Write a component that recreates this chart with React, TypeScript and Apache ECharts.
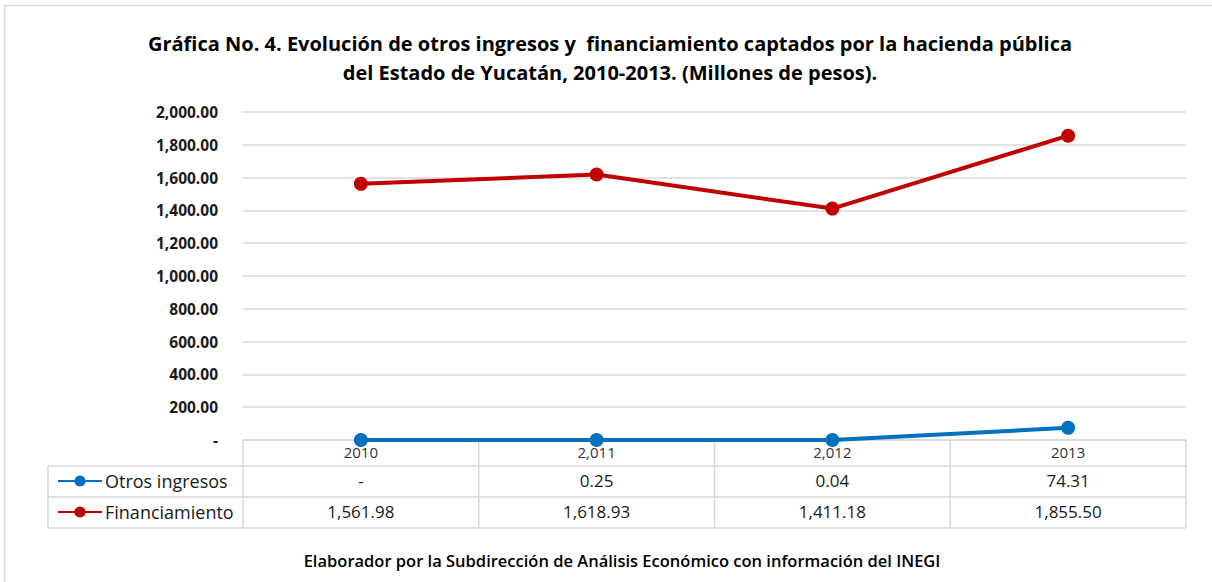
import React, { useEffect, useRef } from "react";
import * as echarts from "echarts";

const categories = ["2010", "2,011", "2,012", "2013"];
const seriesNames = ["Otros ingresos", "Financiamiento"];
const otrosIngresos = [0, 0.25, 0.04, 74.31];
const financiamiento = [1561.98, 1618.93, 1411.18, 1855.5];
const seriesColors = ["#0070C0", "#C00000"];
const titleLines = [
  "Gráfica No. 4. Evolución de otros ingresos y  financiamiento captados por la hacienda pública",
  "del Estado de Yucatán, 2010-2013. (Millones de pesos).",
];
const footer = "Elaborador por la Subdirección de Análisis Económico con información del INEGI";

const W = 1212;
const H = 582;
const GL = 243;
const GR = 1186;
const GT = 112;
const GB = 440;
const ROW_H = 31;
const TABLE_LEFT = 48;
const FONT = "'Open Sans', Lato, sans-serif";

function fmt(v: number): string {
  if (v === 0) return "-";
  return v.toLocaleString("en-US", { minimumFractionDigits: 2, maximumFractionDigits: 2 });
}

export default function App() {
  const ref = useRef<HTMLDivElement>(null);
  useEffect(() => {
    document.body.style.margin = "0";
    const chart = echarts.init(ref.current!, null, { renderer: "svg" });
    const values = [otrosIngresos, financiamiento];
    const colW = (GR - GL) / categories.length;
    const tableBottom = GB + 26 + ROW_H * 2;
    const graphics: any[] = [];
    graphics.push({
      type: "rect",
      shape: { x: 4.5, y: 5.5, width: W + 20, height: H + 20 },
      style: { fill: "none", stroke: "#d9d9d9", lineWidth: 1.5 },
      silent: true,
    });
    const rowYs = [GB + 26, GB + 26 + ROW_H, tableBottom];
    rowYs.forEach((y) => {
      graphics.push({
        type: "line",
        shape: { x1: TABLE_LEFT, y1: y, x2: GR, y2: y },
        style: { stroke: "#d9d9d9", lineWidth: 1.5 },
        silent: true,
      });
    });
    graphics.push({
      type: "line",
      shape: { x1: TABLE_LEFT, y1: GB + 26, x2: TABLE_LEFT, y2: tableBottom },
      style: { stroke: "#d9d9d9", lineWidth: 1.5 },
      silent: true,
    });
    for (let i = 0; i <= categories.length; i++) {
      const x = GL + colW * i;
      graphics.push({
        type: "line",
        shape: { x1: x, y1: GB, x2: x, y2: tableBottom },
        style: { stroke: "#d9d9d9", lineWidth: 1.5 },
        silent: true,
      });
    }
    values.forEach((arr, r) => {
      arr.forEach((v, c) => {
        graphics.push({
          type: "text",
          x: GL + colW * (c + 0.5),
          y: GB + 26 + ROW_H * (r + 0.5) - 1,
          style: {
            text: fmt(v),
            font: `17px ${FONT}`,
            fill: "#1a1a1a",
            textAlign: "center",
            textVerticalAlign: "middle",
          },
          silent: true,
        });
      });
    });
    titleLines.forEach((t, i) => {
      graphics.push({
        type: "text",
        x: 610,
        y: 43 + i * 29,
        style: {
          text: t,
          font: `bold 20px ${FONT}`,
          fill: "#000",
          textAlign: "center",
          textVerticalAlign: "middle",
        },
        silent: true,
      });
    });
    graphics.push({
      type: "text",
      x: 622,
      y: 560,
      style: {
        text: footer,
        font: `600 16.5px ${FONT}`,
        fill: "#000",
        textAlign: "center",
        textVerticalAlign: "middle",
      },
      silent: true,
    });

    chart.setOption({
      animation: false,
      backgroundColor: "#fff",
      grid: { left: GL, right: W - GR, top: GT, bottom: H - GB },
      legend: {
        orient: "vertical",
        left: 52,
        top: GB + 26 + 1,
        itemWidth: 44,
        itemHeight: 14,
        itemGap: 13,
        data: seriesNames,
        textStyle: { fontFamily: FONT, fontSize: 18, color: "#1a1a1a", padding: [0, 0, 0, -2] },
      },
      xAxis: {
        type: "category",
        data: categories,
        boundaryGap: true,
        axisLine: { show: true, lineStyle: { color: "#d9d9d9", width: 1.5 } },
        axisTick: { show: false },
        axisLabel: { fontFamily: FONT, fontSize: 15, color: "#333", margin: 4 },
      },
      yAxis: {
        type: "value",
        min: 0,
        max: 2000,
        interval: 200,
        axisLine: { show: false },
        axisTick: { show: false },
        splitLine: { lineStyle: { color: "#d9d9d9", width: 1.5 } },
        axisLabel: {
          fontFamily: FONT,
          fontSize: 15.5,
          fontWeight: "bold",
          color: "#1a1a1a",
          margin: 25,
          formatter: (v: number) => fmt(v),
        },
      },
      series: [
        {
          name: seriesNames[0],
          type: "line",
          data: otrosIngresos,
          color: seriesColors[0],
          symbol: "circle",
          symbolSize: 14,
          lineStyle: { width: 4 },
        },
        {
          name: seriesNames[1],
          type: "line",
          data: financiamiento,
          color: seriesColors[1],
          symbol: "circle",
          symbolSize: 14,
          lineStyle: { width: 4 },
        },
      ],
      graphic: graphics,
    });
    return () => chart.dispose();
  }, []);
  return <div ref={ref} style={{ width: W, height: H }} />;
}
